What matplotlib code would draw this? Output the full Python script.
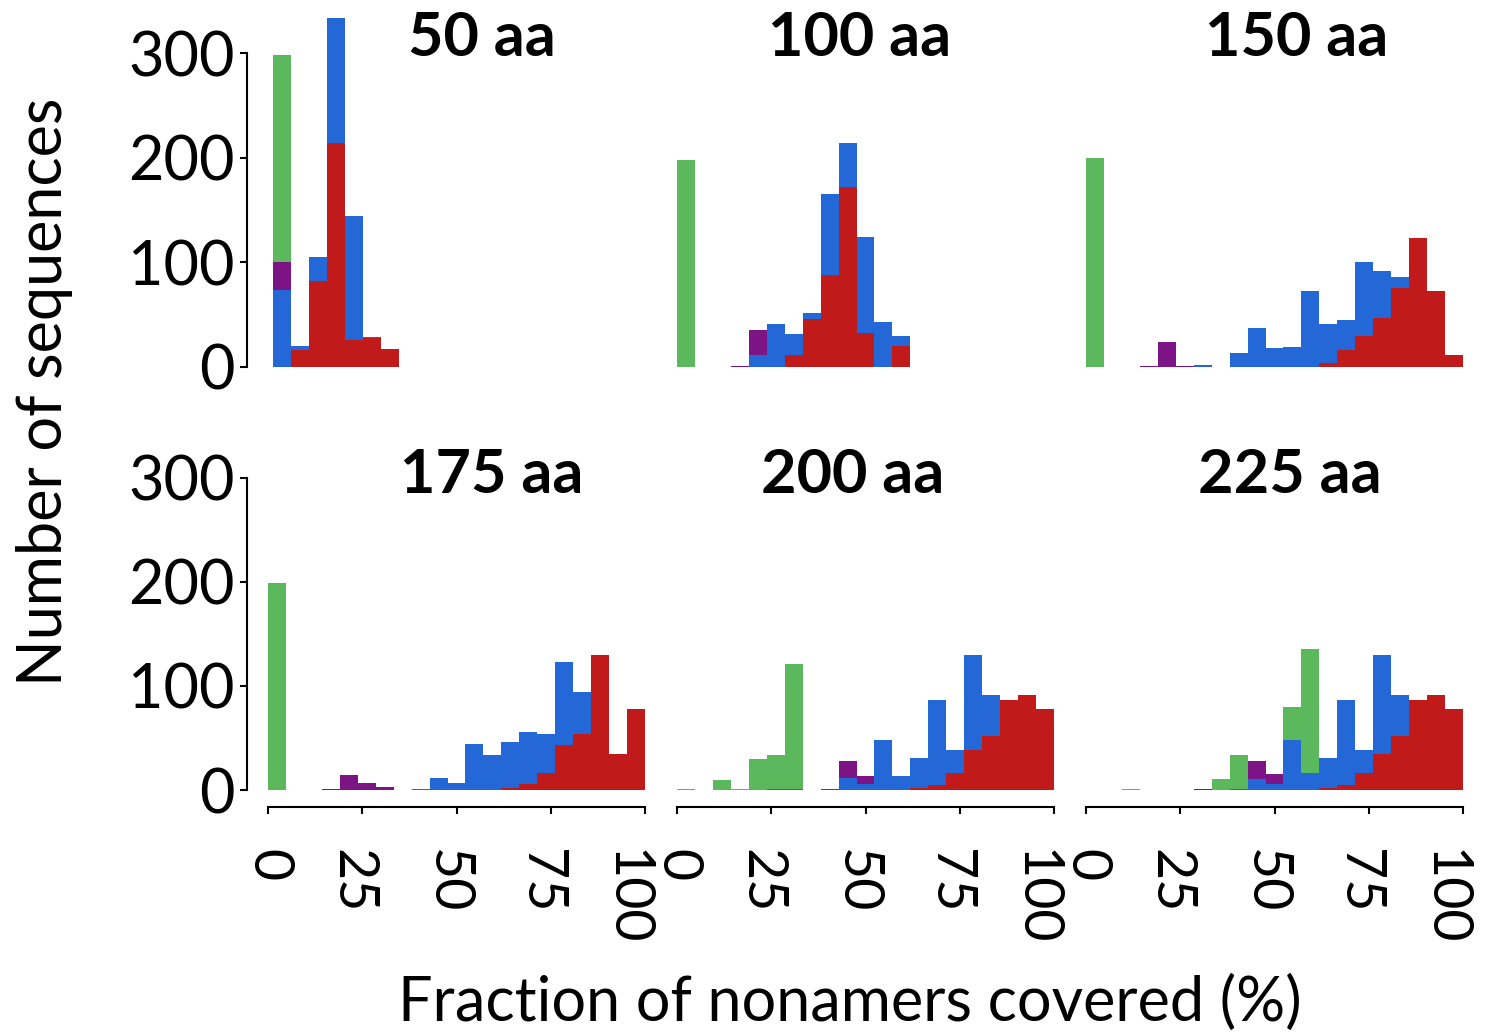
import numpy as np
import matplotlib
matplotlib.use("Agg")
import matplotlib.pyplot as plt
from matplotlib.transforms import ScaledTranslation

plt.rcParams['font.family'] = ['Lato', 'DejaVu Sans']

# --- data: counts per bin (21 bins over 0-100 %) ---
titles = ["50 aa", "100 aa", "150 aa", "175 aa", "200 aa", "225 aa"]
edges = np.linspace(0, 100, 22)

green_50 = [298, 0, 0, 0, 0, 0, 0, 0, 0, 0, 0, 0, 0, 0, 0, 0, 0, 0, 0, 0, 0]
purple_50 = [100, 0, 0, 0, 0, 0, 0, 0, 0, 0, 0, 0, 0, 0, 0, 0, 0, 0, 0, 0, 0]
blue_50 = [73, 20, 105, 334, 144, 28, 0, 0, 0, 0, 0, 0, 0, 0, 0, 0, 0, 0, 0, 0, 0]
red_50 = [0, 16, 82, 214, 26, 27, 17, 0, 0, 0, 0, 0, 0, 0, 0, 0, 0, 0, 0, 0, 0]

green_100 = [198, 0, 0, 0, 0, 0, 0, 0, 0, 0, 0, 0, 0, 0, 0, 0, 0, 0, 0, 0, 0]
purple_100 = [0, 0, 0, 1, 35, 0, 0, 0, 0, 0, 0, 0, 0, 0, 0, 0, 0, 0, 0, 0, 0]
blue_100 = [0, 0, 0, 0, 11, 41, 31, 51, 165, 214, 124, 43, 29, 0, 0, 0, 0, 0, 0, 0, 0]
red_100 = [0, 0, 0, 0, 0, 0, 11, 46, 88, 172, 32, 0, 20, 0, 0, 0, 0, 0, 0, 0, 0]

green_150 = [200, 0, 0, 0, 0, 0, 0, 0, 0, 0, 0, 0, 0, 0, 0, 0, 0, 0, 0, 0, 0]
purple_150 = [0, 0, 0, 1, 24, 1, 0, 0, 0, 0, 0, 0, 0, 0, 0, 0, 0, 0, 0, 0, 0]
blue_150 = [0, 0, 0, 0, 0, 0, 2, 0, 13, 37, 18, 19, 72, 41, 45, 100, 92, 86, 0, 0, 0]
red_150 = [0, 0, 0, 0, 0, 0, 0, 0, 0, 0, 0, 0, 0, 4, 16, 29, 47, 75, 123, 72, 11]

green_175 = [199, 0, 0, 0, 0, 0, 0, 0, 0, 0, 0, 0, 0, 0, 0, 0, 0, 0, 0, 0, 0]
purple_175 = [0, 0, 0, 1, 14, 7, 3, 0, 0, 0, 0, 0, 0, 0, 0, 0, 0, 0, 0, 0, 0]
blue_175 = [0, 0, 0, 0, 0, 0, 0, 0, 1, 12, 7, 44, 34, 46, 56, 54, 123, 94, 0, 0, 0]
red_175 = [0, 0, 0, 0, 0, 0, 0, 0, 0, 0, 0, 0, 0, 2, 6, 16, 43, 54, 130, 35, 78]

green_200 = [1, 0, 10, 1, 30, 34, 121, 0, 0, 0, 0, 0, 0, 0, 0, 0, 0, 0, 0, 0, 0]
purple_200 = [0, 0, 0, 0, 0, 0, 0, 0, 0, 28, 13, 0, 0, 0, 0, 0, 0, 0, 0, 0, 0]
blue_200 = [0, 0, 0, 0, 0, 1, 1, 0, 0, 12, 6, 48, 13, 31, 86, 38, 130, 91, 0, 0, 0]
red_200 = [0, 0, 0, 0, 0, 0, 0, 0, 1, 0, 0, 0, 0, 2, 5, 16, 38, 52, 86, 91, 78]

green_225 = [0, 0, 1, 0, 0, 0, 0, 11, 34, 0, 0, 80, 135, 0, 0, 0, 0, 0, 0, 0, 0]
purple_225 = [0, 0, 0, 0, 0, 0, 1, 0, 0, 28, 15, 0, 0, 0, 0, 0, 0, 0, 0, 0, 0]
blue_225 = [0, 0, 0, 0, 0, 0, 0, 0, 1, 11, 6, 48, 16, 31, 86, 38, 130, 91, 0, 0, 0]
red_225 = [0, 0, 0, 0, 0, 0, 0, 0, 0, 0, 0, 0, 0, 2, 5, 16, 35, 52, 86, 91, 78]

greens = [green_50, green_100, green_150, green_175, green_200, green_225]
purples = [purple_50, purple_100, purple_150, purple_175, purple_200, purple_225]
blues = [blue_50, blue_100, blue_150, blue_175, blue_200, blue_225]
reds = [red_50, red_100, red_150, red_175, red_200, red_225]

xticks = [0, 25, 50, 75, 100]
xtick_labels = ['0', '25', '50', '75', '100']

colors = ['#5cb85c', '#7d1486', '#2468d8', '#c01a1b']

# --- layout (pixel based) ---
W, H = 1495, 1033
fig = plt.figure(figsize=(W / 100, H / 100), dpi=100)
PT = 0.72  # points per pixel at 100 dpi

col_x = [[273, 677, 1086], [268, 677, 1086]]
row_zero = [366.7, 790]
row_scale = [1.0447, 1.0411]
title_pos = [(482, 38), (860, 38), (1297, 38), (492, 475), (853, 475), (1290, 475)]
label_shift = [0, -10, -9, -10, -19]  # px, rotated tick labels sit a bit left
ymax = 340
fs = 44

for i in range(6):
    r, c = divmod(i, 3)
    x0 = col_x[r][c]
    h = ymax * row_scale[r]
    ax = fig.add_axes([x0 / W, (H - row_zero[r]) / H, 377 / W, h / H])
    widths = np.diff(edges)
    for vals, col in zip([greens[i], purples[i], blues[i], reds[i]], colors):
        ax.bar(edges[:-1], vals, width=widths, align='edge', color=col, linewidth=0)
    ax.set_xlim(0, 100)
    ax.set_ylim(0, ymax)
    for s in ['top', 'right']:
        ax.spines[s].set_visible(False)

    if c == 0:
        ax.spines['left'].set_position(('outward', (x0 - 247) * PT))
        ax.spines['left'].set_bounds(0, 300)
        ax.spines['left'].set_linewidth(1.5)
        ax.set_yticks([0, 100, 200, 300])
        ax.tick_params(axis='y', labelsize=fs, length=5, width=1.5, pad=4)
    else:
        ax.spines['left'].set_visible(False)
        ax.set_yticks([])

    if r == 1:
        ax.spines['bottom'].set_position(('outward', 17 * PT))
        ax.spines['bottom'].set_linewidth(1.5)
        ax.set_xticks(xticks)
        ax.set_xticklabels(xtick_labels, rotation=270)
        ax.tick_params(axis='x', labelsize=40, length=5, width=1.5, pad=25)
        for lab, dx in zip(ax.get_xticklabels(), label_shift):
            lab.set_transform(lab.get_transform() + ScaledTranslation(dx / 100, 0, fig.dpi_scale_trans))
    else:
        ax.spines['bottom'].set_visible(False)
        ax.set_xticks([])
    ax.patch.set_visible(False)

    tx, ty = title_pos[i]
    fig.text(tx / W, (H - ty) / H, titles[i], fontsize=fs, fontweight='bold',
             ha='center', va='center')

fig.text(45 / W, (H - 392) / H, "Number of sequences", fontsize=fs,
         rotation=90, ha='center', va='center')
fig.text(850 / W, (H - 1003) / H, "Fraction of nonamers covered (%)", fontsize=fs,
         ha='center', va='center')

fig.savefig("out.png", dpi=100)
